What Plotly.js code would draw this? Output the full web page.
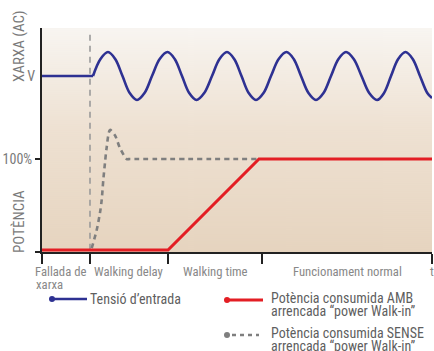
<!DOCTYPE html>
<html>
<head>
<meta charset="utf-8">
<script src="https://cdn.plot.ly/plotly-3.0.1.min.js"></script>
<style>html,body{margin:0;padding:0;background:#fff;}#chart{width:434px;height:351px;}</style>
</head>
<body>
<div id="chart"></div>
<script>
// ---- data (x in time units 0..390, stage boundaries below) ----
var stageBounds = [0, 48, 126, 220, 390];
var stageLabels = ["Walking delay", "Walking time", "Funcionament normal"];
var startLabelTop = "Fallada de";
var startLabelBottom = "xarxa";
var endLabel = "t";

// input voltage before the grid returns (flat at V)
var flatTime  = [0, 51];
var flatLevel = [0, 0];
// input voltage once the grid is back (relative to V, amplitude 1)
var voltTime  = [51, 58.5, 66, 73.2, 80.5, 87.7, 95, 102.5, 110, 117.7, 125.5, 132.7, 140, 147.2, 154.5, 162.2,
                 170, 177.5, 185, 192.2, 199.5, 206.7, 214, 221.5, 229, 236.7, 244.5, 251.7, 259, 266.5, 274, 281.5,
                 289, 296.5, 304, 311.7, 319.5, 327.2, 335, 342, 349, 356.2, 363.5, 370.7, 378, 385.3, 390];
var voltLevel = [0, 0.71, 1, 0.71, 0, -0.71, -1, -0.71, 0, 0.71, 1, 0.71, 0, -0.71, -1, -0.71,
                 0, 0.71, 1, 0.71, 0, -0.71, -1, -0.71, 0, 0.71, 1, 0.71, 0, -0.71, -1, -0.71,
                 0, 0.71, 1, 0.71, 0, -0.71, -1, -0.71, 0, 0.71, 1, 0.71, 0, -0.71, -0.92];

// power with "power Walk-in" (%)
var walkInTime  = [0, 126, 217, 390];
var walkInPower = [0, 0, 100, 100];

// power without "power Walk-in" (%)
var noWalkTime  = [49.7, 54.7, 58, 59.7, 61.3, 63, 64.7, 68, 73, 78, 84.7, 88, 216];
var noWalkPower = [2, 22, 41, 55, 77, 96, 113, 132, 126, 112, 100, 100, 100];

var voltTick = [0], voltTickText = ["V"];
var powerTick = [-2.2, 100], powerTickText = ["", "100%"];

var seriesNames = ["Tensió d’entrada", "Potència consumida AMB", "arrencada “power Walk-in”", "Potència consumida SENSE", "arrencada “power Walk-in”"];
var yTitles = ["XARXA (AC)", "POTÈNCIA"];

// ---- styles ----
var FONT = "'Liberation Sans Narrow', 'Roboto Condensed', 'Arial Narrow', 'Liberation Sans', sans-serif";
var BLUE = "#2e3192", RED = "#e31e24", GREY = "#7f7f7f", AX = "#222";

// pixel helpers for the 42..432 x 28..252 plot box
function P(px){ return (px - 42) / 390; }
function Q(py){ return (252 - py) / 224; }

// background gradient image
var cv = document.createElement("canvas");
cv.width = 4; cv.height = 224;
var cx = cv.getContext("2d");
var g = cx.createLinearGradient(0, 0, 0, 224);
g.addColorStop(0, "#f8f5f1");
g.addColorStop(0.45, "#eee1d2");
g.addColorStop(1, "#e6d4bf");
cx.fillStyle = g; cx.fillRect(0, 0, 4, 224);
var bgImg = cv.toDataURL();

var traces = [
  {x: flatTime, y: flatLevel, type: "scatter", mode: "lines", yaxis: "y",
   line: {color: BLUE, width: 2.6}, hoverinfo: "skip"},
  {x: voltTime, y: voltLevel, type: "scatter", mode: "lines", yaxis: "y",
   line: {color: BLUE, width: 2.6, shape: "spline", smoothing: 1.0}, hoverinfo: "skip"},
  {x: noWalkTime, y: noWalkPower, type: "scatter", mode: "lines", yaxis: "y2",
   line: {color: GREY, width: 2.6, dash: "5px,4px", shape: "spline", smoothing: 0.8}, hoverinfo: "skip"},
  {x: walkInTime, y: walkInPower, type: "scatter", mode: "lines", yaxis: "y2",
   line: {color: RED, width: 3}, hoverinfo: "skip"}
];

var annotations = [];
var tickFont = {family: FONT, size: 12.7, color: "#888"};
for (var i = 0; i < stageLabels.length; i++) {
  annotations.push({x: (stageBounds[i+1] + stageBounds[i+2]) / 2, xref: "x", y: Q(271), yref: "paper",
    text: stageLabels[i], showarrow: false, xanchor: "center", yanchor: "middle", font: tickFont});
}
annotations.push({x: stageBounds[0], xref: "x", xshift: -9, y: Q(271), yref: "paper", text: startLabelTop,
  showarrow: false, xanchor: "left", yanchor: "middle", font: tickFont});
annotations.push({x: stageBounds[0], xref: "x", xshift: -8, y: Q(284), yref: "paper", text: startLabelBottom,
  showarrow: false, xanchor: "left", yanchor: "middle", font: tickFont});
annotations.push({x: stageBounds[4], xref: "x", y: Q(271), yref: "paper", text: endLabel,
  showarrow: false, xanchor: "center", yanchor: "middle", font: tickFont});
// y titles
annotations.push({x: P(19), xref: "paper", y: Q(46), yref: "paper", text: yTitles[0], textangle: -90,
  showarrow: false, xanchor: "center", yanchor: "middle", font: {family: FONT, size: 15, color: "#7a7a7a"}});
annotations.push({x: P(19), xref: "paper", y: Q(222), yref: "paper", text: yTitles[1], textangle: -90,
  showarrow: false, xanchor: "center", yanchor: "middle", font: {family: FONT, size: 15, color: "#7a7a7a"}});
// legend text
var legTxt = [[seriesNames[0], 88, 299], [seriesNames[1], 269, 298], [seriesNames[2], 269, 311],
              [seriesNames[3], 269, 333], [seriesNames[4], 269, 346]];
legTxt.forEach(function(t){
  annotations.push({x: P(t[1]), xref: "paper", y: Q(t[2]), yref: "paper", text: t[0], showarrow: false,
    xanchor: "left", yanchor: "middle", font: {family: FONT, size: 14, color: "#5f5f5f"}});
});

function dot(px, py, col){
  return {type: "circle", xref: "paper", yref: "paper", x0: P(px-3), x1: P(px+3), y0: Q(py+3), y1: Q(py-3),
    fillcolor: col, line: {width: 0}};
}
var shapes = [
  {type: "line", xref: "x", yref: "paper", x0: stageBounds[1], x1: stageBounds[1], y0: 0.01, y1: 0.99,
   line: {color: "#9a9a9a", width: 1.6, dash: "6px,5px"}, layer: "below"},
  {type: "line", xref: "paper", yref: "paper", x0: P(52), x1: P(87), y0: Q(299), y1: Q(299), line: {color: BLUE, width: 2.6}},
  dot(52, 299, BLUE),
  {type: "line", xref: "paper", yref: "paper", x0: P(227), x1: P(263), y0: Q(300), y1: Q(300), line: {color: RED, width: 3}},
  dot(227, 300, RED),
  {type: "line", xref: "paper", yref: "paper", x0: P(232), x1: P(259), y0: Q(335), y1: Q(335), line: {color: GREY, width: 2.6, dash: "4px,4px"}},
  dot(227, 335, GREY)
];

var layout = {
  width: 434, height: 351,
  margin: {l: 42, r: 2, t: 28, b: 99, pad: 0},
  paper_bgcolor: "#ffffff", plot_bgcolor: "rgba(0,0,0,0)",
  showlegend: false,
  font: {family: FONT, size: 13, color: "#888"},
  xaxis: {range: [0, 390], showgrid: false, zeroline: false, showline: true, linecolor: AX, linewidth: 1.5,
    ticks: "outside", ticklen: 10, tickwidth: 1.5, tickcolor: AX, tickvals: stageBounds, showticklabels: false, fixedrange: true},
  yaxis: {range: [-7.333, 2], showgrid: false, zeroline: false, showline: true, linecolor: AX, linewidth: 2,
    tickvals: voltTick, ticktext: voltTickText, ticks: "", ticklabelstandoff: 2,
    tickfont: {family: FONT, size: 14, color: "#7a7a7a"}, fixedrange: true},
  yaxis2: {range: [-2.2, 244], overlaying: "y", side: "left", anchor: "x", showgrid: false, zeroline: false, showline: false,
    tickvals: powerTick, ticktext: powerTickText, ticks: "outside", ticklen: 6, tickwidth: 1.5, tickcolor: AX,
    tickfont: {family: FONT, size: 14, color: "#7a7a7a"}, fixedrange: true},
  images: [{source: bgImg, xref: "paper", yref: "paper", x: 0, y: 1, sizex: 1, sizey: 1,
    sizing: "stretch", xanchor: "left", yanchor: "top", layer: "below"}],
  shapes: shapes,
  annotations: annotations
};

Plotly.newPlot("chart", traces, layout, {displayModeBar: false, staticPlot: true});
</script>
</body>
</html>
